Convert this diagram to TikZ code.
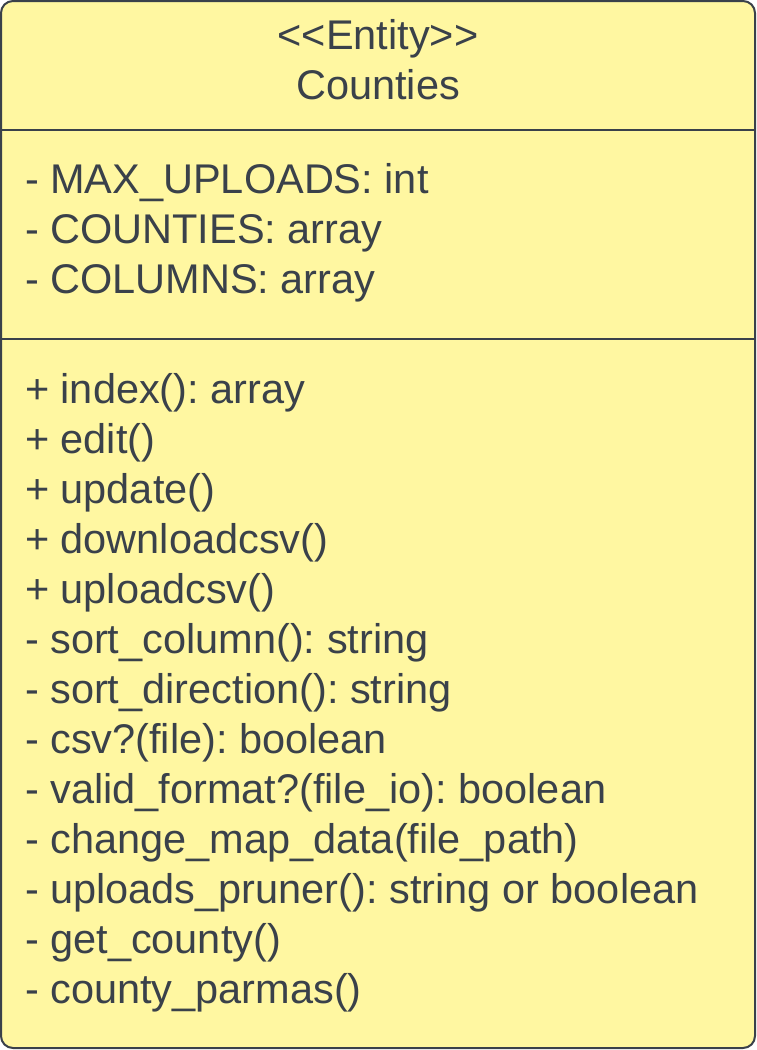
\documentclass[tikz,border=0pt]{standalone}
\usepackage{fontspec}
\setmainfont{Liberation Sans}
\definecolor{entityfill}{HTML}{FFF7A1}
\definecolor{entityline}{HTML}{3A414A}
\frenchspacing

\begin{document}
\begin{tikzpicture}[x=1pt,y=-1pt,line width=2pt,
	txt/.style={inner sep=0pt, text=entityline, font=\fontsize{41.5}{50}\selectfont},
	member/.style={txt, anchor=base west}]
\useasboundingbox (0,0) rectangle (756,1050);

\draw[entityline, fill=entityfill, rounded corners=12pt] (1,1) rectangle (755,1048);
\coordinate (sepAw) at (1,130);
\coordinate (sepAe) at (755,130);
\coordinate (sepBw) at (1,339);
\coordinate (sepBe) at (755,339);
\draw[entityline] (sepAw)--(sepAe);
\draw[entityline] (sepBw)--(sepBe);

\node[txt, anchor=base] (stereo) at (378,49) {{<}{<}Entity{>}{>}};
\node[txt, anchor=base] (title) at (378,99) {Counties};

\foreach \t [count=\i] in {- MAX\_UPLOADS: int, - COUNTIES: array, - COLUMNS: array}{
	\node[member] (attr\i) at (24,143+\i*50) {\t};
}

\foreach \t [count=\i] in {+ index(): array, + edit(), + update(), + downloadcsv(), + uploadcsv(),
	- sort\_column(): string, - sort\_direction(): string, - csv?(file): boolean,
	- valid\_format?(file\_io): boolean, - change\_map\_data(file\_path),
	- uploads\_pruner(): string or boolean, - get\_county(), - county\_parmas()}{
	\node[member] (meth\i) at (24,353+\i*50) {\t};
}

\end{tikzpicture}
\end{document}
